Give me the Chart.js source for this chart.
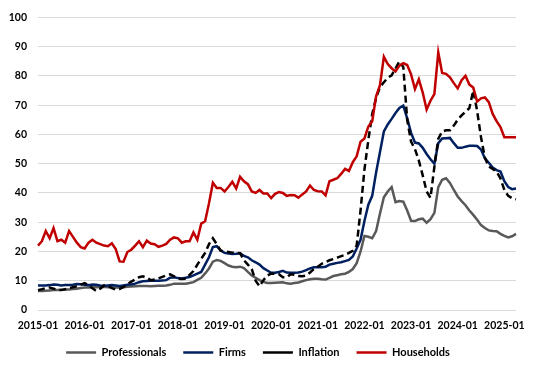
<!DOCTYPE html>
<html>
<head>
<meta charset="utf-8">
<script src="https://cdn.jsdelivr.net/npm/chart.js@4"></script>
<style>
html, body { margin: 0; padding: 0; background: #fff; }
</style>
</head>
<body>
<canvas id="chart" width="548" height="372"></canvas>
<script>
// monthly, 2015-01 .. 2025-04
var years = [2015, 2016, 2017, 2018, 2019, 2020, 2021, 2022, 2023, 2024, 2025];
var months = [];
years.forEach(function (y) {
  for (var m = 1; m <= 12; m++) {
    if (y === 2025 && m > 4) break;
    months.push(y + "-" + (m < 10 ? "0" + m : m));
  }
});

var tickLabels = ["2015-01","2016-01","2017-01","2018-01","2019-01","2020-01","2021-01","2022-01","2023-01","2024-01","2025-01"];

var professionals = [
  6.5, 6.5, 6.6, 6.7, 6.8, 6.8, 6.9, 7.0, 7.0, 7.2, 7.3, 7.5,
  7.7, 7.7, 7.8, 7.8, 7.9, 7.9, 7.8, 7.8, 7.7, 7.7, 7.8, 7.9,
  8.0, 8.1, 8.2, 8.2, 8.2, 8.1, 8.2, 8.3, 8.3, 8.4, 8.6, 9.0,
  9.0, 9.0, 9.0, 9.2, 9.5, 10.3, 11.0, 12.5, 14.2, 16.5, 17.1, 16.8,
  16.0, 15.2, 14.8, 14.6, 14.8, 14.3, 13.0, 11.8, 11.0, 10.2, 9.6, 9.2,
  9.2, 9.3, 9.4, 9.5, 9.1, 9.0, 9.2, 9.4, 9.8, 10.2, 10.5, 10.7,
  10.7, 10.5, 10.4, 11.0, 11.6, 11.9, 12.2, 12.4, 13.0, 14.0, 16.0, 20.0,
  25.3, 25.0, 24.5, 27.0, 33.0, 38.5, 40.5, 42.0, 36.8, 37.2, 37.0, 34.0,
  30.5, 30.4, 31.0, 31.2, 29.8, 31.0, 33.2, 42.0, 44.5, 45.0, 43.4, 41.0,
  38.8, 37.2, 35.8, 34.0, 32.5, 30.8, 29.0, 28.0, 27.2, 27.0, 26.9, 26.0,
  25.3, 24.8, 25.2, 26.0
];

var firms = [
  8.4, 8.4, 8.4, 8.5, 8.7, 8.6, 8.4, 8.5, 8.5, 8.6, 8.9, 8.8,
  8.6, 8.5, 8.7, 8.6, 8.4, 8.3, 8.4, 8.5, 8.4, 8.2, 8.4, 8.6,
  8.7, 9.0, 9.5, 9.8, 9.9, 10.0, 10.0, 10.0, 10.1, 10.2, 11.0, 11.2,
  10.9, 10.8, 11.0, 11.3, 11.8, 12.4, 13.0, 15.5, 18.0, 21.5, 21.8, 20.3,
  19.5, 19.3, 19.1, 19.2, 19.4, 18.5, 18.0, 17.0, 16.3, 15.5, 14.3, 13.5,
  12.7, 12.7, 13.0, 13.4, 12.8, 12.7, 12.7, 12.8, 13.1, 13.6, 14.2, 14.6,
  14.6, 14.6, 14.8, 15.5, 15.8, 16.1, 16.3, 16.7, 17.1, 18.3, 21.0, 24.0,
  30.4, 36.0, 39.0, 47.0, 54.0, 61.0, 63.4, 65.3, 67.3, 69.0, 69.8, 65.5,
  60.5, 57.2, 56.9, 55.4, 53.3, 51.5, 50.0, 57.0, 58.6, 58.7, 58.8, 57.0,
  55.4, 55.4, 55.8, 56.1, 56.1, 56.0, 54.8, 51.8, 50.3, 48.7, 47.8, 47.3,
  44.0, 42.0, 41.3, 41.5
];

var inflation = [
  6.8, 7.1, 7.5, 7.7, 7.3, 6.9, 6.8, 7.1, 7.4, 7.8, 8.1, 8.7,
  9.2, 8.5, 7.4, 6.5, 7.3, 8.4, 8.2, 7.5, 7.0, 7.2, 7.9, 8.8,
  9.7, 10.4, 11.2, 11.5, 11.0, 10.2, 10.4, 10.8, 11.3, 11.8, 12.2, 11.5,
  10.7, 10.6, 10.7, 12.0, 13.3, 15.5, 17.5, 19.5, 22.5, 24.5, 22.5, 20.3,
  20.0, 19.8, 19.6, 19.5, 19.4, 17.0, 15.5, 14.0, 10.0, 8.1, 10.2, 11.8,
  12.4, 12.4, 12.2, 11.2, 11.2, 12.2, 12.0, 11.6, 11.5, 11.8, 12.8, 14.0,
  14.8, 15.8, 16.4, 17.0, 17.4, 17.9, 18.4, 18.8, 19.5, 20.2, 22.0, 34.0,
  48.0, 58.0, 67.0, 72.5, 76.2, 77.8, 79.3, 80.2, 82.5, 85.0, 83.0, 65.0,
  57.5, 55.0, 51.0, 46.0, 40.5, 38.3, 49.0, 58.5, 61.0, 61.4, 61.4, 63.0,
  65.0, 66.5, 67.7, 69.0, 75.0, 68.0, 59.0, 52.0, 49.0, 48.2, 47.3, 45.0,
  41.0, 39.0, 38.2, 37.8
];

var households = [
  22.0, 23.5, 27.0, 24.5, 28.0, 23.5, 24.0, 23.0, 27.0, 25.0, 23.0, 21.5,
  21.0, 23.0, 24.0, 23.0, 22.5, 22.0, 21.8, 22.8, 20.8, 16.6, 16.5, 19.8,
  20.6, 22.0, 23.5, 21.5, 23.7, 22.7, 22.5, 21.6, 22.0, 22.6, 24.0, 24.8,
  24.5, 23.0, 23.5, 23.5, 26.5, 24.0, 29.5, 30.3, 36.5, 43.5, 41.7, 41.7,
  40.5, 42.0, 43.8, 41.5, 45.5, 44.0, 43.0, 40.5, 40.0, 41.0, 39.8, 39.8,
  38.2, 39.7, 40.3, 40.0, 39.0, 39.3, 39.2, 38.4, 39.5, 40.5, 42.5, 41.0,
  40.6, 40.5, 39.2, 44.0, 44.5, 45.0, 46.5, 48.2, 47.5, 50.5, 52.5, 57.5,
  58.6, 62.7, 64.5, 73.0, 76.8, 86.5, 84.0, 82.6, 81.5, 83.5, 84.3, 83.7,
  80.5, 75.5, 78.8, 74.3, 68.5, 71.5, 73.8, 88.0, 81.0, 80.7, 79.5, 77.5,
  75.7, 78.5, 80.0, 77.0, 76.0, 71.2, 72.3, 72.6, 71.0, 67.0, 64.5, 62.5,
  59.0, 59.0, 59.0, 59.0
];

Chart.defaults.font.family = "Lato";
Chart.defaults.font.weight = "bold";
Chart.defaults.font.size = 11;
Chart.defaults.color = "#000";

function series(label, data, color, order, dash) {
  return {
    label: label,
    data: data,
    borderColor: color,
    backgroundColor: color,
    borderWidth: 2.5,
    borderDash: dash || [],
    pointRadius: 0,
    tension: 0,
    fill: false,
    order: order
  };
}

new Chart(document.getElementById("chart"), {
  type: 'line',
  data: {
    labels: months,
    datasets: [
      series("Professionals", professionals, "#595959", 4),
      series("Firms", firms, "#002060", 3),
      series("Inflation", inflation, "#000000", 2, [7, 4]),
      series("Households", households, "#C00000", 1)
    ]
  },
  options: {
    responsive: false,
    animation: false,
    layout: { padding: { left: 0, right: 32, top: 14, bottom: 4 } },
    plugins: {
      tooltip: { enabled: false },
      legend: {
        position: 'bottom',
        labels: {
          usePointStyle: true,
          pointStyle: 'line',
          pointStyleWidth: 30,
          padding: 17,
          font: { size: 11 },
          sort: function (a, b) { return a.datasetIndex - b.datasetIndex; }
        }
      }
    },
    scales: {
      x: {
        afterFit: function (s) { s.height = 20; },
        grid: { display: false, drawTicks: false },
        border: { display: false },
        ticks: {
          autoSkip: false,
          maxRotation: 0,
          padding: 9,
          font: { size: 10.5 },
          callback: function (v) {
            var l = this.getLabelForValue(v);
            return tickLabels.indexOf(l) >= 0 ? l : '';
          }
        }
      },
      y: {
        min: 0,
        max: 100,
        afterFit: function (s) { s.width = 38; },
        ticks: { stepSize: 10, padding: 11, font: { size: 10.5 } },
        grid: { color: '#d9d9d9', drawTicks: false },
        border: { display: false }
      }
    }
  }
});
</script>
</body>
</html>
